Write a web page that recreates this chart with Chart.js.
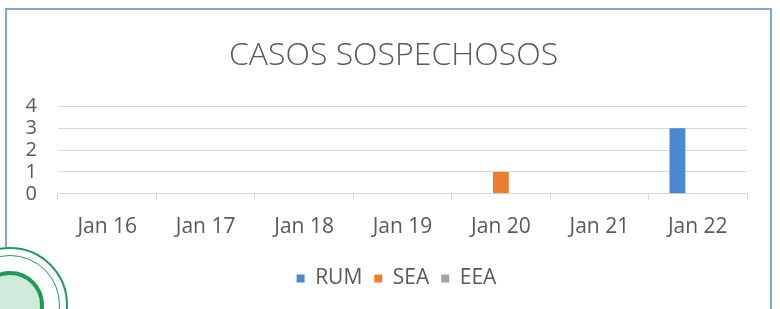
<!DOCTYPE html>
<html>
<head>
<meta charset="utf-8">
<script src="https://cdn.jsdelivr.net/npm/chart.js@4"></script>
<style>
  html, body { margin: 0; padding: 0; background: #fff; overflow: hidden; }
  #wrap { position: relative; width: 780px; height: 309px; }
  #frame { position: absolute; left: 5px; top: 8px; width: 767px; height: 320px;
           border: 2px solid #7aa9df; box-sizing: border-box; }
  #chartCanvas { position: absolute; left: 0; top: 0; }
  #seal { position: absolute; left: -48px; top: 247px; width: 116px; height: 116px;
          border-radius: 50%; background: #fff; border: 2px solid #1f9a5a;
          box-sizing: border-box; }
  #seal::before { content: ''; position: absolute; left: 6px; top: 6px; right: 6px; bottom: 6px;
          border-radius: 50%; border: 1px solid #1f9a5a; }
  #seal::after { content: ''; position: absolute; left: 22px; top: 22px; right: 22px; bottom: 22px;
          border-radius: 50%; border: 4px solid #1f9a5a; background: #cfeadb; }
</style>
</head>
<body>
<div id="wrap">
  <div id="frame"></div>
  <canvas id="chartCanvas" width="780" height="309"></canvas>
  <div id="seal"></div>
</div>
<script>
// categories and series
const days = ['Jan 16', 'Jan 17', 'Jan 18', 'Jan 19', 'Jan 20', 'Jan 21', 'Jan 22'];
const rum = [0, 0, 0, 0, 0, 0, 3];
const sea = [0, 0, 0, 0, 1, 0, 0];
const eea = [0, 0, 0, 0, 0, 0, 0];
const yTicks = [0, 1, 2, 3, 4];

const textGray = '#595959';
const gridGray = '#d9d9d9';
const baseFont = 'Open Sans, sans-serif';

// title and legend sit a bit right of the full-width centre in the original
const nudgeBlocks = {
  id: 'nudgeBlocks',
  afterLayout(chart) {
    const shift = (box, dx) => { if (box) { box.left += dx; box.right += dx; } };
    shift(chart.titleBlock, 10);
    shift(chart.legend, 13);
  }
};

const ctx = document.getElementById('chartCanvas').getContext('2d');
const chart = new Chart(ctx, {
  type: 'bar',
  data: {
    labels: days,
    datasets: [
      { label: 'RUM', data: rum, backgroundColor: '#4a88d2' },
      { label: 'SEA', data: sea, backgroundColor: '#ed7d31' },
      { label: 'EEA', data: eea, backgroundColor: '#a5a5a5' }
    ]
  },
  options: {
    responsive: false,
    animation: false,
    datasets: { bar: { categoryPercentage: 0.62, barPercentage: 0.78 } },
    layout: { padding: { left: 20, right: 33, top: 0, bottom: 10 } },
    plugins: {
      title: {
        display: true,
        text: 'CASOS SOSPECHOSOS',
        color: textGray,
        font: { family: baseFont, size: 32, weight: '300' },
        padding: { top: 37, bottom: 31 }
      },
      legend: {
        position: 'bottom',
        labels: {
          color: textGray,
          font: { family: baseFont, size: 21 },
          boxWidth: 8, boxHeight: 8,
          padding: 12
        }
      },
      tooltip: { enabled: false }
    },
    scales: {
      x: {
        afterFit: s => { s.height += 1; },
        grid: { drawOnChartArea: false, drawTicks: true, tickLength: 6, color: gridGray },
        border: { color: gridGray },
        ticks: { color: textGray, font: { family: baseFont, size: 21 }, padding: 15 }
      },
      y: {
        min: 0, max: 4,
        afterFit: s => { s.width = 38; },
        afterBuildTicks: s => { s.ticks = yTicks.map(v => ({ value: v })); },
        grid: { color: gridGray, drawTicks: false },
        border: { display: false },
        ticks: { color: textGray, font: { family: baseFont, size: 20 }, padding: 21, autoSkip: false }
      }
    }
  },
  plugins: [nudgeBlocks]
});
</script>
</body>
</html>
